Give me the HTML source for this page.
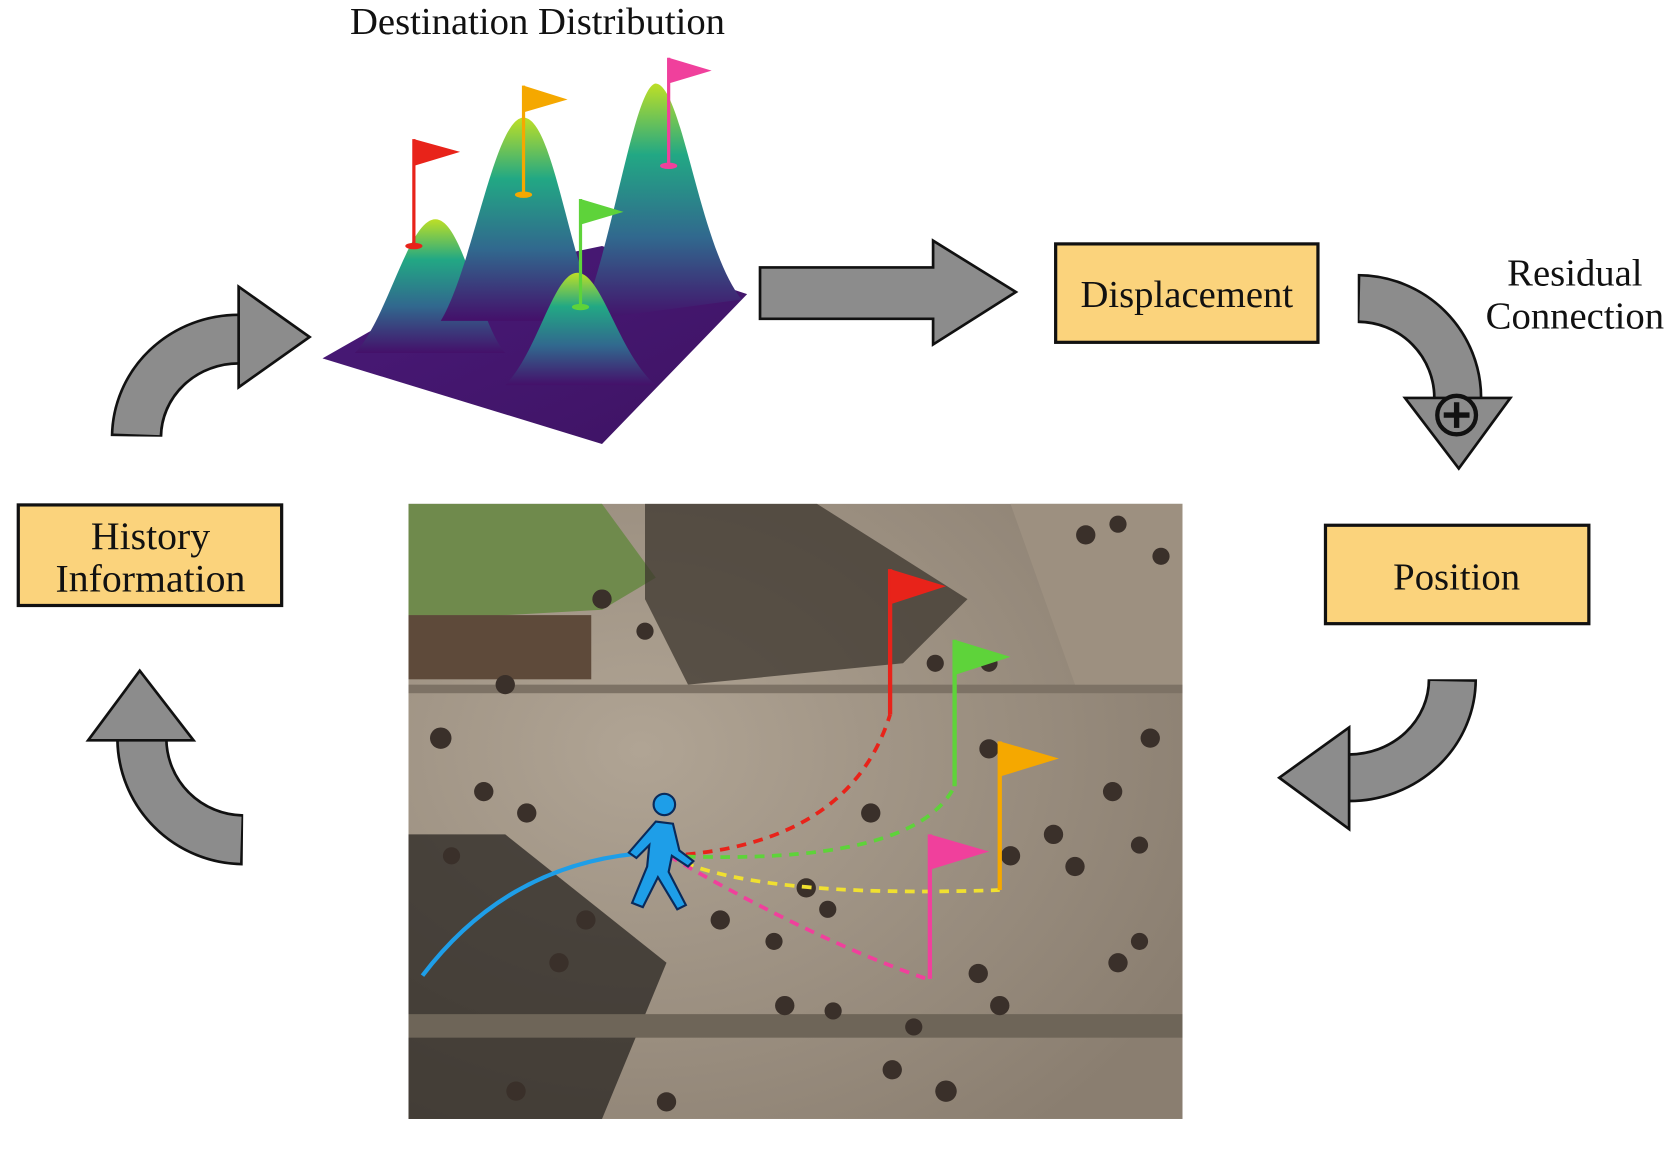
<!DOCTYPE html>
<html><head><meta charset="utf-8"><style>
html,body{margin:0;padding:0;background:#fff;}
svg{display:block;}
text{font-family:"Liberation Serif",serif;fill:#111;}
</style></head><body>
<svg width="1677" height="1150" viewBox="0 0 1560 1075" preserveAspectRatio="none" xmlns="http://www.w3.org/2000/svg">
<defs>
<linearGradient id="hill" x1="0" y1="1" x2="0" y2="0">
<stop offset="0" stop-color="#44106a"/><stop offset="0.35" stop-color="#31688e"/><stop offset="0.7" stop-color="#22a884"/><stop offset="1" stop-color="#bddf26"/>
</linearGradient>
<linearGradient id="base" x1="0" y1="0" x2="1" y2="1">
<stop offset="0" stop-color="#4a1a7a"/><stop offset="1" stop-color="#3e1363"/>
</linearGradient>
<radialGradient id="shade" cx="0.3" cy="0.4" r="0.8"><stop offset="0" stop-color="#b0a494"/><stop offset="1" stop-color="#8a7e70"/></radialGradient>
</defs>
<text x="500" y="32" font-size="36" text-anchor="middle">Destination Distribution</text>
<polygon points="300,335 440,255 560,230 695,275 560,415" fill="url(#base)"/>
<path d="M330,330 C360,300 380,205 405,205 C430,205 445,300 470,330 Z" fill="url(#hill)"/>
<path d="M410,300 C440,250 460,110 487,110 C515,110 530,250 560,300 Z" fill="url(#hill)"/>
<path d="M540,300 C570,230 590,80 610,78 C635,80 650,230 690,280 Z" fill="url(#hill)"/>
<path d="M470,360 C500,330 515,255 537,255 C560,255 575,330 610,360 Z" fill="url(#hill)"/>
<g stroke-width="3">
<line x1="385" y1="130" x2="385" y2="230" stroke="#e8231a"/><polygon points="385,130 428,142 385,155" fill="#e8231a"/><ellipse cx="385" cy="230" rx="8" ry="3" fill="#e8231a"/>
<line x1="487" y1="80" x2="487" y2="182" stroke="#f5a800"/><polygon points="487,80 528,93 487,105" fill="#f5a800"/><ellipse cx="487" cy="182" rx="8" ry="3" fill="#f5a800"/>
<line x1="622" y1="54" x2="622" y2="155" stroke="#f0409c"/><polygon points="622,54 662,66 622,78" fill="#f0409c"/><ellipse cx="622" cy="155" rx="8" ry="3" fill="#f0409c"/>
<line x1="540" y1="186" x2="540" y2="287" stroke="#5ed33a"/><polygon points="540,186 580,198 540,210" fill="#5ed33a"/><ellipse cx="540" cy="287" rx="8" ry="3" fill="#5ed33a"/>
</g>
<polygon points="707,250 868,250 868,225 945,273 868,322 868,298 707,298" fill="#8c8c8c" stroke="#111" stroke-width="2.5"/>
<rect x="982" y="228" width="244" height="92" fill="#fbd37c" stroke="#111" stroke-width="3"/>
<text x="1104" y="287" font-size="36" text-anchor="middle">Displacement</text>
<rect x="1233" y="491" width="245" height="92" fill="#fbd37c" stroke="#111" stroke-width="3"/>
<text x="1355" y="551" font-size="36" text-anchor="middle">Position</text>
<rect x="17" y="472" width="245" height="94" fill="#fbd37c" stroke="#111" stroke-width="3"/>
<text x="140" y="513" font-size="37" text-anchor="middle">History</text>
<text x="140" y="553" font-size="37" text-anchor="middle">Information</text>
<text x="1465" y="267" font-size="36" text-anchor="middle">Residual</text>
<text x="1465" y="307" font-size="36" text-anchor="middle">Connection</text>
<g fill="none" stroke-linecap="butt">
<path d="M127,408 A95,92 0 0 1 222,317" stroke="#111" stroke-width="48"/>
<path d="M127,406 A95,92 0 0 1 224,317" stroke="#8c8c8c" stroke-width="43"/>
<path d="M226,785 A95,95 0 0 1 132,692" stroke="#111" stroke-width="48"/>
<path d="M224,785 A95,95 0 0 1 132,690" stroke="#8c8c8c" stroke-width="43"/>
<path d="M1263,279 A93,93 0 0 1 1356,372" stroke="#111" stroke-width="46"/>
<path d="M1265,279 A93,93 0 0 1 1356,374" stroke="#8c8c8c" stroke-width="41"/>
<path d="M1351,635 A96,92 0 0 1 1255,727" stroke="#111" stroke-width="46"/>
<path d="M1351,637 A96,92 0 0 1 1253,727" stroke="#8c8c8c" stroke-width="41"/>
</g>
<g fill="#8c8c8c" stroke="#111" stroke-width="2.5">
<polygon points="222,268 288,315 222,362"/>
<polygon points="82,692 130,627 180,692"/>
<polygon points="1307,372 1405,372 1357,438"/>
<polygon points="1255,680 1190,727 1255,775"/>
</g>
<circle cx="1355" cy="388" r="18" fill="#8c8c8c" stroke="#111" stroke-width="4"/>
<line x1="1343" y1="388" x2="1367" y2="388" stroke="#111" stroke-width="5"/>
<line x1="1355" y1="376" x2="1355" y2="400" stroke="#111" stroke-width="5"/>
<rect x="380" y="471" width="720" height="575" fill="url(#shade)"/>
<polygon points="380,471 560,471 610,540 560,570 380,580" fill="#6f8a4c"/>
<rect x="380" y="575" width="170" height="60" fill="#5e4a3a"/>
<polygon points="600,471 760,471 900,560 840,620 640,640 600,560" fill="#3c352e" opacity="0.75"/>
<polygon points="380,780 470,780 620,900 560,1046 380,1046" fill="#2a2622" opacity="0.75"/>
<rect x="380" y="640" width="720" height="8" fill="#7d7265"/>
<rect x="380" y="948" width="720" height="22" fill="#6e6558"/>
<polygon points="940,471 1100,471 1100,640 1000,640" fill="#9d9080"/>
<g fill="#3a302a">
<circle cx="410" cy="690" r="10"/><circle cx="450" cy="740" r="9"/><circle cx="490" cy="760" r="9"/><circle cx="420" cy="800" r="8"/><circle cx="470" cy="640" r="9"/>
<circle cx="560" cy="560" r="9"/><circle cx="600" cy="590" r="8"/><circle cx="870" cy="620" r="8"/><circle cx="920" cy="620" r="8"/>
<circle cx="1010" cy="500" r="9"/><circle cx="1040" cy="490" r="8"/><circle cx="1080" cy="520" r="8"/><circle cx="1070" cy="690" r="9"/>
<circle cx="1035" cy="740" r="9"/><circle cx="980" cy="780" r="9"/><circle cx="1060" cy="790" r="8"/><circle cx="1000" cy="810" r="9"/>
<circle cx="810" cy="760" r="9"/><circle cx="750" cy="830" r="9"/><circle cx="770" cy="850" r="8"/><circle cx="670" cy="860" r="9"/><circle cx="720" cy="880" r="8"/>
<circle cx="545" cy="860" r="9"/><circle cx="520" cy="900" r="9"/><circle cx="730" cy="940" r="9"/><circle cx="775" cy="945" r="8"/><circle cx="850" cy="960" r="8"/>
<circle cx="910" cy="910" r="9"/><circle cx="930" cy="940" r="9"/><circle cx="1040" cy="900" r="9"/><circle cx="1060" cy="880" r="8"/><circle cx="830" cy="1000" r="9"/><circle cx="880" cy="1020" r="10"/>
<circle cx="920" cy="700" r="9"/><circle cx="940" cy="800" r="9"/><circle cx="480" cy="1020" r="9"/><circle cx="620" cy="1030" r="9"/>
</g>
<path d="M393,912 Q470,810 592,798" fill="none" stroke="#1e9ee8" stroke-width="4"/>
<g fill="none" stroke-width="3.5" stroke-dasharray="9,7">
<path d="M622,800 Q790,790 828,668" stroke="#e8231a"/>
<path d="M622,800 Q850,810 888,735" stroke="#5ed33a"/>
<path d="M622,800 Q700,840 930,832" stroke="#f0e030"/>
<path d="M622,800 Q760,880 862,915" stroke="#f0409c"/>
</g>
<g stroke-width="4">
<line x1="828" y1="532" x2="828" y2="668" stroke="#e8231a"/><polygon points="828,532 880,548 828,565" fill="#e8231a"/>
<line x1="888" y1="598" x2="888" y2="735" stroke="#5ed33a"/><polygon points="888,598 940,614 888,631" fill="#5ed33a"/>
<line x1="930" y1="693" x2="930" y2="832" stroke="#f5a800"/><polygon points="930,693 985,709 930,726" fill="#f5a800"/>
<line x1="865" y1="780" x2="865" y2="915" stroke="#f0409c"/><polygon points="865,780 920,796 865,813" fill="#f0409c"/>
</g>
<g stroke="#0a2a5a" stroke-width="2" fill="#1e9ee8">
<circle cx="618" cy="752" r="10"/>
<path d="M610,768 L626,770 L632,795 L645,805 L640,810 L625,800 L622,815 L638,846 L630,850 L612,820 L598,848 L588,844 L602,810 L604,790 L592,802 L585,797 Z"/>
</g>
</svg>
</body></html>
